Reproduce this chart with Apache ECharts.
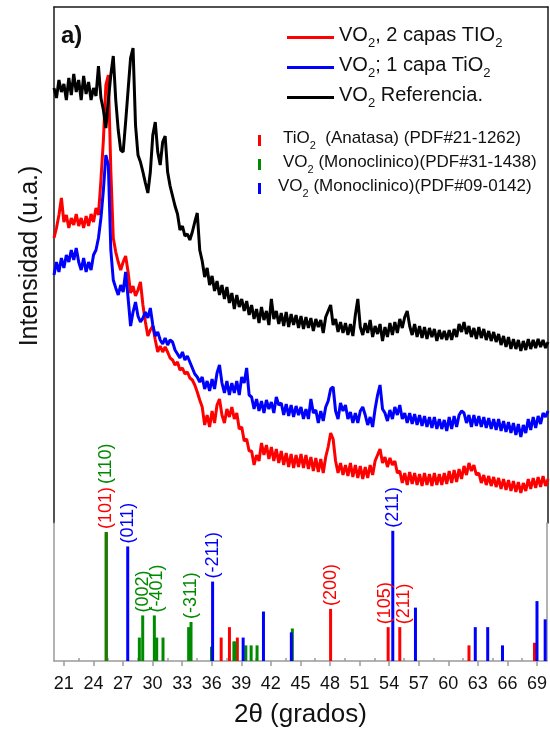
<!DOCTYPE html>
<html>
<head>
<meta charset="utf-8">
<script src="https://cdn.jsdelivr.net/npm/echarts@6/dist/echarts.min.js"></script>
<style>
  html, body { margin: 0; padding: 0; background: #fff; }
  #chart { width: 550px; height: 729px; }
</style>
</head>
<body>
<div id="chart"></div>
<script>
// XRD scans, 2theta from 20 to 70 deg, step 0.25 (one row = 5 deg)
var scanStart = 20, scanStep = 0.25;

var red2Capas = [
  285,295,308,325,301,308,295,305,298,309,297,305,295,307,297,309,301,315,308,343,
  383,438,448,353,285,271,261,253,261,267,251,230,237,227,233,241,218,201,187,193,
  197,183,171,177,171,176,171,165,163,158,161,153,155,149,151,145,143,138,131,123,
  116,98,108,96,112,100,118,124,108,100,114,106,116,104,110,94,96,82,84,72,
  72,58,68,62,80,68,78,64,76,62,74,60,72,58,70,56,69,55,68,56,
  69,55,68,54,66,52,65,51,64,50,66,76,90,84,62,50,60,48,58,47,
  60,46,58,45,57,44,56,45,58,48,62,68,74,60,66,56,65,58,62,50,
  52,40,50,38,51,39,50,38,49,37,50,38,49,37,50,38,49,38,50,39,
  52,40,53,41,54,44,57,48,60,52,58,48,50,40,48,38,47,37,46,36,
  45,34,44,33,43,32,42,31,41,30,40,32,44,34,45,35,46,36,47,37,
  44
];

var blue1Capa = [
  248,261,251,265,255,268,261,273,263,275,261,253,265,251,261,253,268,273,285,305,
  333,368,358,273,243,235,228,238,231,251,225,197,211,221,207,201,205,211,205,215,
  198,187,191,183,179,185,178,183,181,173,169,165,171,163,167,161,155,149,146,141,
  146,134,142,132,144,134,150,158,140,130,142,128,140,130,142,128,146,140,155,128,
  126,114,124,112,122,110,123,114,121,110,126,118,120,108,119,107,118,106,117,108,
  116,104,114,104,124,110,113,100,112,102,116,122,134,136,112,104,120,112,118,104,
  111,100,110,100,112,116,108,98,106,96,114,128,138,114,110,102,113,104,116,108,
  118,104,110,100,110,99,109,98,108,97,107,96,106,95,106,94,104,94,103,92,
  106,94,107,96,108,112,110,100,108,96,108,97,107,96,106,95,105,94,104,93,
  104,92,102,91,101,90,100,88,99,86,98,90,104,93,106,95,107,99,110,106,
  112
];

var blackRef = [
  435,425,443,431,439,423,445,428,449,431,443,423,447,429,441,423,435,427,457,425,
  413,395,423,448,467,423,393,373,371,401,433,465,475,398,368,361,351,340,330,351,
  388,401,371,358,381,387,351,337,327,317,309,293,297,287,289,283,291,301,310,273,
  262,246,255,238,247,232,242,228,238,224,236,220,230,214,228,216,224,212,222,208,
  218,204,214,200,216,203,212,198,224,204,212,199,210,197,211,196,209,198,208,195,
  207,194,206,195,205,192,204,196,203,190,206,212,218,198,204,191,201,190,200,188,
  199,187,208,224,196,188,200,190,203,186,197,189,199,182,196,186,200,188,201,190,
  204,195,206,212,197,188,199,186,197,185,196,184,195,186,194,182,193,184,192,183,
  193,183,194,186,199,191,201,189,197,186,195,184,196,185,194,183,192,182,191,181,
  189,178,187,176,186,174,184,174,183,172,182,173,184,174,183,175,184,176,183,175,
  181
];

// reference patterns (position, relative intensity, hkl label)
var anataseTheta = [25.3, 36.96, 37.8, 38.6, 48.06, 53.9, 55.08, 62.1, 68.75];
var anataseInt   = [99, 18, 26, 18, 40, 26, 26, 12, 14];
var anataseHkl   = ['(101)', '', '', '', '(200)', '(105)', '(211)', '', ''];

var vo2aTheta = [25.3, 28.66, 29.0, 30.18, 30.42, 31.06, 33.66, 33.9, 35.98, 38.25, 38.38, 39.46, 40.0, 40.6, 44.18];
var vo2aInt   = [99, 18, 35, 35, 18, 18, 26, 30, 11, 15, 15, 12, 12, 12, 25];
var vo2aHkl   = ['(110)', '', '(002)', '(-401)', '', '', '', '(-311)', '', '', '', '', '', '', ''];

var vo2bTheta = [27.48, 36.09, 39.19, 41.25, 44.08, 54.37, 56.67, 62.74, 64.0, 65.5, 69.0, 69.83];
var vo2bInt   = [88, 61, 18, 38, 22, 100, 41, 26, 26, 12, 46, 32];
var vo2bHkl   = ['(011)', '(-211)', '', '', '', '(211)', '', '', '', '', '', ''];

var tickVals = [21, 24, 27, 30, 33, 36, 39, 42, 45, 48, 51, 54, 57, 60, 63, 66, 69];
var minorVals = [22.5, 25.5, 28.5, 31.5, 34.5, 37.5, 40.5, 43.5, 46.5, 49.5, 52.5, 55.5, 58.5, 61.5, 64.5, 67.5];

var scanNames = ['VO2, 2 capas TIO2', 'VO2; 1 capa TiO2', 'VO2 Referencia.'];
var refNames = ['TiO2  (Anatasa) (PDF#21-1262)', 'VO2 (Monoclinico)(PDF#31-1438)', 'VO2 (Monoclinico)(PDF#09-0142)'];

var legendRich = {
  'VO2, 2 capas TIO2': '{t|VO}{s|2}{t|, 2 capas TIO}{s|2}',
  'VO2; 1 capa TiO2': '{t|VO}{s|2}{t|; 1 capa TiO}{s|2}',
  'VO2 Referencia.': '{t|VO}{s|2}{t| Referencia.}',
  'TiO2  (Anatasa) (PDF#21-1262)': '{a|TiO}{b|2}{a|  (Anatasa) (PDF#21-1262)}',
  'VO2 (Monoclinico)(PDF#31-1438)': '{a|VO}{b|2}{a| (Monoclinico)(PDF#31-1438)}',
  'VO2 (Monoclinico)(PDF#09-0142)': '{a|VO}{b|2}{a| (Monoclinico)(PDF#09-0142)}'
};

// small nudges for crowded hkl labels
var labelTweak = {
  '(110)': { distance: 48 },
  '(-401)': { offset: [0, 3] },
  '(105)': { offset: [0, -3] },
  '(211)r': { offset: [0, 4] }
};

function scan(vals) {
  return vals.map(function (v, i) { return [scanStart + i * scanStep, v]; });
}

function sticks(theta, inten, hkl, key) {
  return theta.map(function (t, i) {
    var d = { value: [t, inten[i]] };
    if (hkl[i]) {
      d.label = Object.assign({ show: true, formatter: hkl[i] },
        labelTweak[hkl[i] + key] || labelTweak[hkl[i]] || {});
    }
    return d;
  });
}

var frame = { show: true, onZero: false, lineStyle: { color: '#1a1a1a', width: 1.5 } };
var lowerLine = { show: true, onZero: false, lineStyle: { color: '#9a9a9a', width: 1.5 } };
var stickLabel = {
  show: false, rotate: 90, position: 'top', align: 'left', verticalAlign: 'middle',
  distance: 3, fontSize: 18
};

var chart = echarts.init(document.getElementById('chart'));
chart.setOption({
  animation: false,
  textStyle: { fontFamily: 'Liberation Sans' },
  title: {
    text: 'a)', left: 56, top: 19,
    textStyle: { fontSize: 24, fontWeight: 'bold', color: '#111' }
  },
  legend: [
    {
      data: scanNames, orient: 'vertical', left: 282, top: 20,
      icon: 'rect', itemWidth: 47, itemHeight: 3, itemGap: 5,
      formatter: function (n) { return legendRich[n]; },
      textStyle: {
        color: '#111',
        rich: {
          t: { fontSize: 20, color: '#111', padding: [0, 0, 5, 0], verticalAlign: 'bottom' },
          s: { fontSize: 13, color: '#111', verticalAlign: 'bottom' }
        }
      }
    },
    {
      data: [
        { name: refNames[0] },
        { name: refNames[1] },
        { name: refNames[2], textStyle: { padding: [0, 0, 0, 12] } }
      ],
      orient: 'vertical', left: 253, top: 125,
      icon: 'rect', itemWidth: 3, itemHeight: 11, itemGap: 3,
      formatter: function (n) { return legendRich[n]; },
      textStyle: {
        color: '#111', padding: [0, 0, 0, 17],
        rich: {
          a: { fontSize: 17, color: '#111', padding: [0, 0, 4, 0], verticalAlign: 'bottom' },
          b: { fontSize: 11, color: '#111', verticalAlign: 'bottom' }
        }
      }
    }
  ],
  grid: [
    { left: 54, right: 2, top: 7, height: 516 },
    { left: 54, right: 2, top: 523, height: 138 }
  ],
  xAxis: [
    {
      gridIndex: 0, type: 'value', min: 20, max: 70, position: 'top',
      axisLine: frame, axisTick: { show: false }, axisLabel: { show: false }, splitLine: { show: false }
    },
    {
      gridIndex: 1, type: 'value', min: 20, max: 70,
      axisLine: lowerLine,
      axisTick: { customValues: tickVals, length: 5, lineStyle: { color: '#9a9a9a', width: 1.5 } },
      axisLabel: { customValues: tickVals, fontSize: 18, color: '#111', margin: 14 },
      splitLine: { show: false },
      name: '2\u03b8 (grados)', nameLocation: 'middle', nameGap: 41,
      nameTextStyle: { fontSize: 26, color: '#111' }
    },
    {
      gridIndex: 1, type: 'value', min: 20, max: 70,
      axisLine: { show: false },
      axisTick: { customValues: minorVals, length: 3, lineStyle: { color: '#9a9a9a', width: 1.5 } },
      axisLabel: { show: false }, splitLine: { show: false }
    }
  ],
  yAxis: [
    {
      gridIndex: 0, type: 'value', min: 0, max: 516,
      axisLine: frame, axisTick: { show: false }, axisLabel: { show: false }, splitLine: { show: false },
      name: 'Intensidad (u.a.)', nameLocation: 'middle', nameGap: 11,
      nameTextStyle: { fontSize: 25, color: '#111', padding: [0, 0, 0, 18] }
    },
    {
      gridIndex: 0, type: 'value', min: 0, max: 516, position: 'right',
      axisLine: frame, axisTick: { show: false }, axisLabel: { show: false }, splitLine: { show: false }
    },
    {
      gridIndex: 1, type: 'value', min: 0, max: 106,
      axisLine: lowerLine, axisTick: { show: false }, axisLabel: { show: false }, splitLine: { show: false }
    },
    {
      gridIndex: 1, type: 'value', min: 0, max: 106, position: 'right',
      axisLine: lowerLine, axisTick: { show: false }, axisLabel: { show: false }, splitLine: { show: false }
    }
  ],
  series: [
    {
      name: scanNames[0], type: 'line', xAxisIndex: 0, yAxisIndex: 0,
      data: scan(red2Capas), showSymbol: false, color: '#ff0000',
      lineStyle: { width: 3, color: '#ff0000' }
    },
    {
      name: scanNames[1], type: 'line', xAxisIndex: 0, yAxisIndex: 0,
      data: scan(blue1Capa), showSymbol: false, color: '#0000ff',
      lineStyle: { width: 3, color: '#0000ff' }
    },
    {
      name: scanNames[2], type: 'line', xAxisIndex: 0, yAxisIndex: 0,
      data: scan(blackRef), showSymbol: false, color: '#000000',
      lineStyle: { width: 3, color: '#000000' }
    },
    {
      name: refNames[0], type: 'bar', xAxisIndex: 1, yAxisIndex: 2,
      barWidth: 3, barGap: '-100%', color: '#ff0000',
      label: Object.assign({}, stickLabel, { color: '#ff0000' }),
      data: sticks(anataseTheta, anataseInt, anataseHkl, 'r')
    },
    {
      name: refNames[1], type: 'bar', xAxisIndex: 1, yAxisIndex: 2,
      barWidth: 3, barGap: '-100%', color: '#008a00',
      label: Object.assign({}, stickLabel, { color: '#008a00' }),
      data: sticks(vo2aTheta, vo2aInt, vo2aHkl, 'g')
    },
    {
      name: refNames[2], type: 'bar', xAxisIndex: 1, yAxisIndex: 2,
      barWidth: 3, barGap: '-100%', color: '#0000ff',
      label: Object.assign({}, stickLabel, { color: '#0000ff' }),
      data: sticks(vo2bTheta, vo2bInt, vo2bHkl, 'b')
    }
  ]
});
</script>
</body>
</html>
